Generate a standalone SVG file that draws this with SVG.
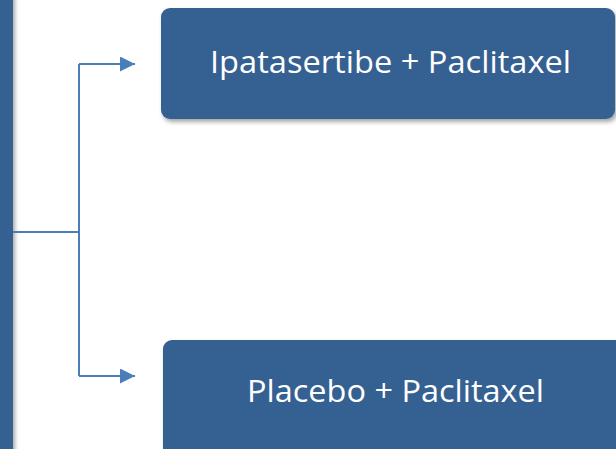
<svg xmlns="http://www.w3.org/2000/svg" width="616" height="449" viewBox="0 0 616 449">
<defs>
<style>
.box{fill:#366092;filter:url(#sh)}
.lbl{font-family:"Open Sans","Noto Sans","Liberation Sans",sans-serif;font-size:31px;fill:#ffffff;text-anchor:middle}
.conn{fill:none;stroke:#4A7EBB;stroke-width:2}
</style>
<filter id="sh" x="-10%" y="-10%" width="130%" height="130%">
<feDropShadow dx="2" dy="3" stdDeviation="2" flood-color="#000000" flood-opacity="0.35"/>
</filter>
<marker id="ah" markerWidth="16" markerHeight="16" refX="15" refY="7.5" orient="auto" markerUnits="userSpaceOnUse">
<path d="M0,0 L15,7.5 L0,15 Z" fill="#4A7EBB"/>
</marker>
</defs>
<g id="source"><rect class="box" x="-20" y="-10" width="33" height="470"/></g>
<g id="connectors">
<path class="conn" d="M13,232 H79"/>
<path class="conn" d="M79,64 V376"/>
<path class="conn" d="M79,64 H135" marker-end="url(#ah)"/>
<path class="conn" d="M79,376 H135" marker-end="url(#ah)"/>
</g>
<g id="arm1">
<rect class="box" x="161" y="8" width="454" height="111" rx="9"/>
<text class="lbl" x="390.5" y="73" textLength="361" lengthAdjust="spacingAndGlyphs">Ipatasertibe + Paclitaxel</text>
</g>
<g id="arm2">
<rect class="box" x="163" y="340" width="470" height="120" rx="9"/>
<text class="lbl" x="395.5" y="402" textLength="297" lengthAdjust="spacingAndGlyphs">Placebo + Paclitaxel</text>
</g>
</svg>
